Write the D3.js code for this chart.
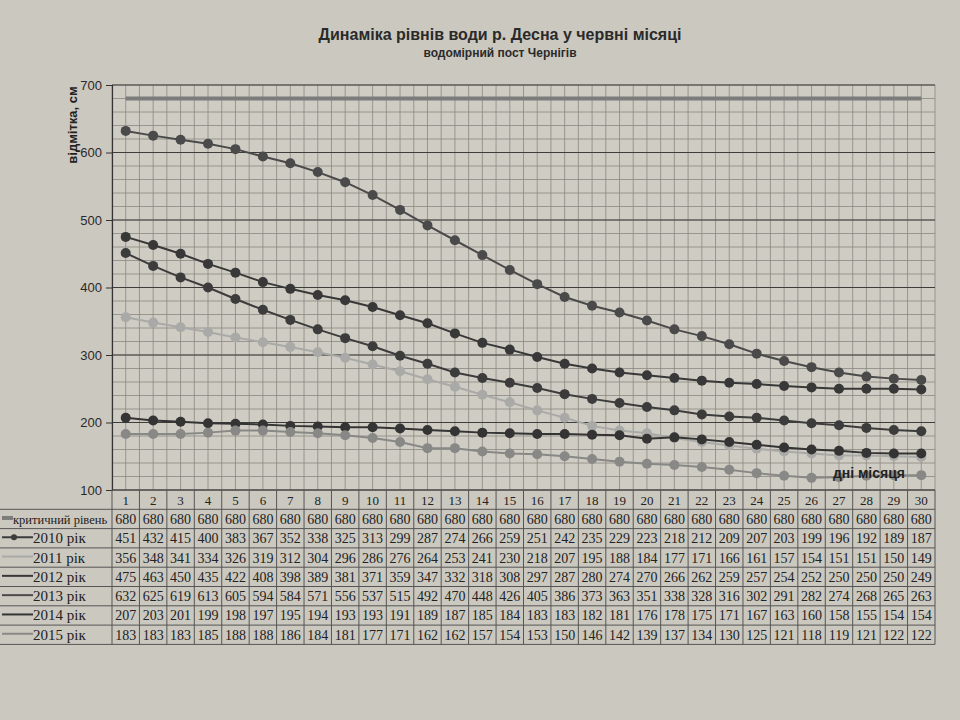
<!DOCTYPE html>
<html><head><meta charset="utf-8">
<script src="https://cdn.jsdelivr.net/npm/d3@7"></script>
<style>
html,body{margin:0;padding:0;background:#cbc8bf;}
svg{display:block;}
</style></head>
<body>
<svg id="chart" width="960" height="720"></svg>
<script>
const days = d3.range(1, 31);
const critical = Array(30).fill(680);
const y2010 = [451,432,415,400,383,367,352,338,325,313,299,287,274,266,259,251,242,235,229,223,218,212,209,207,203,199,196,192,189,187];
const y2011 = [356,348,341,334,326,319,312,304,296,286,276,264,253,241,230,218,207,195,188,184,177,171,166,161,157,154,151,151,150,149];
const y2012 = [475,463,450,435,422,408,398,389,381,371,359,347,332,318,308,297,287,280,274,270,266,262,259,257,254,252,250,250,250,249];
const y2013 = [632,625,619,613,605,594,584,571,556,537,515,492,470,448,426,405,386,373,363,351,338,328,316,302,291,282,274,268,265,263];
const y2014 = [207,203,201,199,198,197,195,194,193,193,191,189,187,185,184,183,183,182,181,176,178,175,171,167,163,160,158,155,154,154];
const y2015 = [183,183,183,185,188,188,186,184,181,177,171,162,162,157,154,153,150,146,142,139,137,134,130,125,121,118,119,121,122,122];
const seriesNames = ["критичний рівень","2010 рік","2011 рік","2012 рік","2013 рік","2014 рік","2015 рік"];
const seriesValues = [critical,y2010,y2011,y2012,y2013,y2014,y2015];
const seriesColors = ["#7c7c7c","#3c3c3c","#a9a9a7","#383838","#4a4a4a","#343434","#888886"];
const yTicks = [100,200,300,400,500,600,700];
const titleText = "Динаміка рівнів води р. Десна у червні  місяці";
const subtitleText = "водомірний пост Чернігів";
const yLabel = "відмітка, см";
const xLabel = "дні місяця";

(function () {
const svg = d3.select("#chart");
const pL = 112, pR = 935, pT = 85, pB = 490;
const x = d3.scaleBand().domain(days).range([pL, pR]);
const y = d3.scaleLinear().domain([100, 700]).range([pB, pT]);
const bw = x.bandwidth();

svg.append("rect").attr("x", pL).attr("y", pT).attr("width", pR-pL).attr("height", pB-pT).attr("fill", "#cfccc3");

const g = svg.append("g");
g.selectAll("line.hmin").data(d3.range(100, 701, 20)).join("line")
  .attr("x1", pL).attr("x2", pR).attr("y1", d => y(d)).attr("y2", d => y(d))
  .attr("stroke", "#8a8882").attr("stroke-width", 0.8);
const vpos = [];
days.forEach(d => { vpos.push(x(d)); vpos.push(x(d) + bw/2); });
vpos.push(pR);
g.selectAll("line.v").data(vpos).join("line")
  .attr("x1", d => d).attr("x2", d => d).attr("y1", pT).attr("y2", pB)
  .attr("stroke", "#8a8882").attr("stroke-width", 0.8);
g.selectAll("line.hmaj").data(yTicks).join("line")
  .attr("x1", pL).attr("x2", pR).attr("y1", d => y(d)).attr("y2", d => y(d))
  .attr("stroke", "#3e3d3a").attr("stroke-width", 1.2);

const yAxis = svg.append("g").attr("transform", `translate(${pL},0)`)
  .call(d3.axisLeft(y).tickValues(yTicks).tickSize(6).tickPadding(4));
yAxis.select(".domain").attr("stroke", "#333").attr("stroke-width", 1.2);
yAxis.selectAll(".tick line").attr("stroke", "#333");
yAxis.selectAll("text").attr("font-family", "Liberation Sans, Arial, sans-serif").attr("font-size", 13).attr("fill", "#2a2a2a");

svg.append("text").attr("transform", "translate(77,125) rotate(-90)")
  .attr("text-anchor", "middle").attr("font-family", "Liberation Sans, Arial, sans-serif")
  .attr("font-weight", "bold").attr("font-size", 13).attr("fill", "#222").text(yLabel);

const line = d3.line().x((d, i) => x(days[i]) + bw/2).y(d => y(d));
seriesValues.forEach((vals, si) => {
  const crit = si === 0;
  svg.append("path").datum(vals).attr("d", line).attr("fill", "none")
    .attr("stroke", seriesColors[si]).attr("stroke-width", crit ? 4 : 2);
  if (!crit) {
    svg.append("g").selectAll("circle").data(vals).join("circle")
      .attr("cx", (d, i) => x(days[i]) + bw/2).attr("cy", d => y(d)).attr("r", 5)
      .attr("fill", seriesColors[si]);
  }
});

svg.append("text").attr("x", 905).attr("y", 478).attr("text-anchor", "end")
  .attr("font-family", "Liberation Sans, Arial, sans-serif").attr("font-weight", "bold")
  .attr("font-size", 14).attr("fill", "#222").text(xLabel);

svg.append("text").attr("x", 500).attr("y", 40).attr("text-anchor", "middle")
  .attr("font-family", "Liberation Sans, Arial, sans-serif").attr("font-weight", "bold")
  .attr("font-size", 16).attr("fill", "#2a2a2a").text(titleText);
svg.append("text").attr("x", 500).attr("y", 57).attr("text-anchor", "middle")
  .attr("font-family", "Liberation Sans, Arial, sans-serif").attr("font-weight", "bold")
  .attr("font-size", 12).attr("fill", "#2a2a2a").text(subtitleText);

const rowH = 19.3;
const tTop = pB;
const tab = svg.append("g").attr("font-family", "Liberation Serif, Times New Roman, serif").attr("font-size", 14).attr("fill", "#222");
const nRows = 1 + seriesNames.length;
for (let r = 0; r <= nRows; r++) {
  tab.append("line").attr("x1", r === 0 ? pL : 0).attr("x2", pR)
    .attr("y1", tTop + r*rowH).attr("y2", tTop + r*rowH)
    .attr("stroke", "#555").attr("stroke-width", 1);
}
tab.append("line").attr("x1", pL).attr("x2", pL).attr("y1", tTop).attr("y2", tTop + nRows*rowH).attr("stroke", "#555");
days.forEach(d => {
  tab.append("line").attr("x1", x(d)+bw).attr("x2", x(d)+bw).attr("y1", tTop).attr("y2", tTop + nRows*rowH).attr("stroke", "#555");
});
tab.selectAll("text.day").data(days).join("text")
  .attr("x", d => x(d) + bw/2).attr("y", tTop + rowH/2 + 5).attr("text-anchor", "middle")
  .attr("font-size", 13).text(d => d);
seriesNames.forEach((name, si) => {
  const cy = tTop + (si+1)*rowH + rowH/2;
  const tx = si === 0 ? 13 : 33;
  tab.append("line").attr("x1", 2).attr("x2", tx).attr("y1", cy-1).attr("y2", cy-1)
    .attr("stroke", seriesColors[si]).attr("stroke-width", si === 0 ? 4 : 2);
  if (si === 1) tab.append("circle").attr("cx", 14).attr("cy", cy-1).attr("r", 3).attr("fill", seriesColors[si]);
  tab.append("text").attr("x", tx).attr("y", cy + 5).attr("font-size", si === 0 ? 12.5 : 15).text(name);
  tab.selectAll(null).data(seriesValues[si]).join("text")
    .attr("x", (d, i) => x(days[i]) + bw/2).attr("y", cy + 5).attr("text-anchor", "middle").text(d => d);
});
})();
</script>
</body></html>
